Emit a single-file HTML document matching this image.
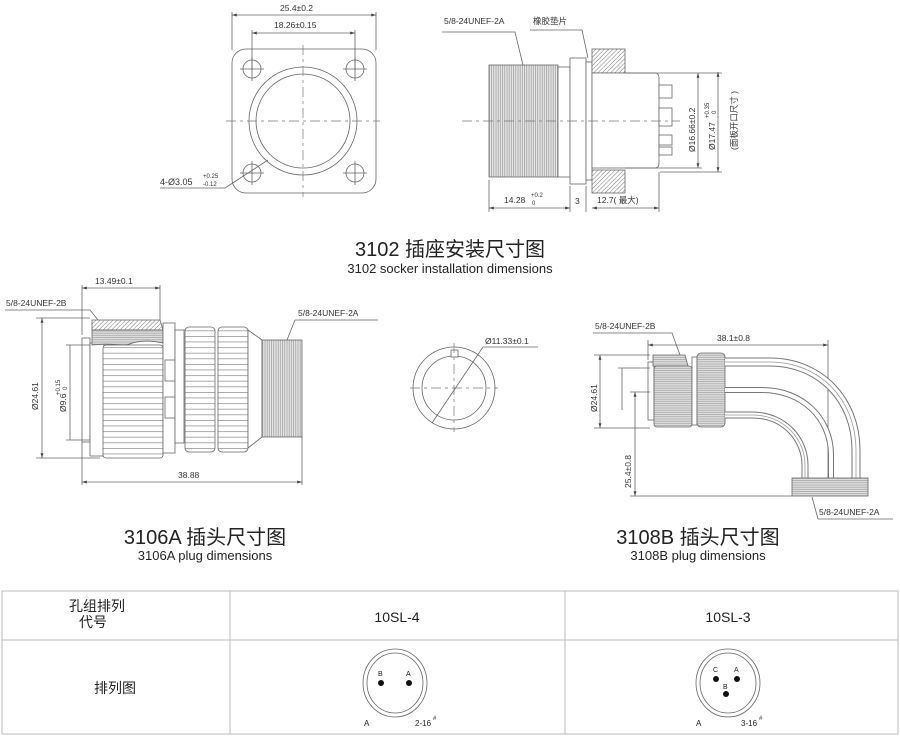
<!DOCTYPE html>
<html><head><meta charset="utf-8"><style>
html,body{margin:0;padding:0;background:#fff;}
svg{display:block;font-family:"Liberation Sans","Noto Sans CJK SC",sans-serif;}
.l{stroke:#666;stroke-width:0.8;fill:none}
.f{stroke:#666;stroke-width:0.8;fill:#fff}
.t{font-size:8.5px;fill:#333}
.c{stroke:#777;stroke-width:0.7;stroke-dasharray:10 4 3 4;fill:none}
</style></head><body>
<svg width="900" height="744" viewBox="0 0 900 744" xmlns="http://www.w3.org/2000/svg">
<defs>
<pattern id="hatch" width="3" height="3" patternUnits="userSpaceOnUse" patternTransform="rotate(45)"><rect width="3" height="3" fill="#fff"/><line x1="0" y1="0" x2="0" y2="3" stroke="#777" stroke-width="1"/></pattern>
<pattern id="thr" width="2.2" height="10" patternUnits="userSpaceOnUse"><rect width="2.2" height="10" fill="#e4e4e4"/><line x1="1" y1="0" x2="1" y2="10" stroke="#999" stroke-width="0.7"/></pattern>
<pattern id="knh" width="10" height="5.6" patternUnits="userSpaceOnUse"><rect width="10" height="5.6" fill="#fff"/><line x1="0" y1="0.3" x2="10" y2="0.3" stroke="#888" stroke-width="0.8"/></pattern>
<pattern id="knv" width="10" height="2.2" patternUnits="userSpaceOnUse"><rect width="10" height="2.2" fill="#ddd"/><line x1="0" y1="1" x2="10" y2="1" stroke="#999" stroke-width="0.6"/></pattern>
<marker id="a" viewBox="0 0 10 10" refX="10" refY="5" markerWidth="6" markerHeight="6" orient="auto-start-reverse"><path d="M0,2 L10,5 L0,8z" fill="#444"/></marker>
</defs>

<!-- ===== 3102 front view ===== -->
<line class="l" x1="232" y1="12" x2="232" y2="50"/><line class="l" x1="376" y1="12" x2="376" y2="50"/>
<line class="l" x1="232" y1="15" x2="376" y2="15" marker-start="url(#a)" marker-end="url(#a)"/>
<text class="t" x="280" y="11">25.4±0.2</text>
<line class="l" x1="252" y1="30" x2="252" y2="70"/><line class="l" x1="355" y1="30" x2="355" y2="70"/>
<line class="l" x1="252" y1="33" x2="355" y2="33" marker-start="url(#a)" marker-end="url(#a)"/>
<text class="t" x="274" y="28">18.26±0.15</text>
<rect class="l" x="232" y="49" width="144" height="144" rx="14"/>
<circle class="l" cx="303" cy="121" r="54"/><circle class="l" cx="303" cy="121" r="47"/>
<g class="l">
<circle cx="252" cy="69" r="9"/><circle cx="355" cy="69" r="9"/><circle cx="252" cy="173" r="9"/><circle cx="355" cy="173" r="9"/>
<path d="M240 69h24M252 57v24M343 69h24M355 57v24M240 173h24M252 161v24M343 173h24M355 161v24"/>
</g>
<line class="c" x1="226" y1="121" x2="380" y2="121"/><line class="c" x1="303" y1="45" x2="303" y2="197"/>
<path class="l" d="M160 188 H225 L268 160"/>
<text x="160" y="185" style="font-size:9px;fill:#333">4-Ø3.05</text>
<text x="203" y="178" style="font-size:6px;fill:#333">+0.25</text><text x="203" y="186" style="font-size:6px;fill:#333">-0.12</text>

<!-- ===== 3102 side view ===== -->
<text class="t" x="444" y="24">5/8-24UNEF-2A</text>
<path class="l" d="M442 32 H515 L523 65"/>
<text class="t" x="533" y="24">橡胶垫片</text>
<path class="l" d="M530 30 H582 L588 58"/>
<rect x="489" y="65" width="69" height="112" fill="url(#thr)" stroke="#666" stroke-width="0.8"/>
<rect class="f" x="558" y="67" width="12" height="110"/>
<rect class="f" x="570" y="58" width="16" height="126"/>
<rect class="f" x="586" y="62" width="6" height="118"/>
<rect x="592" y="49" width="33" height="24" fill="url(#hatch)" stroke="#666" stroke-width="0.8"/>
<rect x="592" y="170" width="33" height="23" fill="url(#hatch)" stroke="#666" stroke-width="0.8"/>
<path class="f" d="M592 73 H655 Q659 73 659 78 V163 Q659 168 655 168 H592z"/>
<g class="f"><rect x="659" y="85" width="13" height="13"/><rect x="659" y="108" width="13" height="18"/><rect x="659" y="135" width="13" height="10"/><rect x="659" y="147" width="13" height="8"/></g>
<line class="c" x1="462" y1="121" x2="680" y2="121"/>
<path class="l" d="M625 73 H722 M625 168 H702 M660 172 H722"/>
<line class="l" x1="698" y1="73" x2="698" y2="168" marker-start="url(#a)" marker-end="url(#a)"/>
<line class="l" x1="718" y1="72" x2="718" y2="172" marker-start="url(#a)" marker-end="url(#a)"/>
<text class="t" transform="translate(695,152) rotate(-90)">Ø16.66±0.2</text>
<text class="t" transform="translate(715,150) rotate(-90)">Ø17.47</text>
<text transform="translate(709,118) rotate(-90)" style="font-size:6px;fill:#333">+0.35</text>
<text transform="translate(716,114) rotate(-90)" style="font-size:6px;fill:#333">0</text>
<text class="t" transform="translate(737,150) rotate(-90)">(面板开口尺寸 )</text>
<path class="l" d="M489 180 V212 M570 186 V212 M586 186 V212 M659 172 V212"/>
<line class="l" x1="489" y1="208" x2="570" y2="208" marker-start="url(#a)" marker-end="url(#a)"/>
<line class="l" x1="592" y1="208" x2="659" y2="208" marker-start="url(#a)" marker-end="url(#a)"/>
<text class="t" x="504" y="203">14.28</text>
<text x="531" y="197" style="font-size:6px;fill:#333">+0.2</text><text x="532" y="205" style="font-size:6px;fill:#333">0</text>
<text class="t" x="575" y="204">3</text>
<text class="t" x="597" y="203">12.7(  最大)</text>

<text x="450" y="256" text-anchor="middle" style="font-size:20px;fill:#222">3102 插座安装尺寸图</text>
<text x="450" y="273" text-anchor="middle" style="font-size:13px;fill:#222">3102 socker installation dimensions</text>

<!-- ===== 3106A ===== -->
<line class="l" x1="82" y1="285" x2="82" y2="335"/><line class="l" x1="160" y1="285" x2="160" y2="320"/>
<line class="l" x1="82" y1="288" x2="160" y2="288" marker-start="url(#a)" marker-end="url(#a)"/>
<text class="t" x="95" y="284">13.49±0.1</text>
<text class="t" x="6" y="306">5/8-24UNEF-2B</text>
<path class="l" d="M5 310 H90 L102 325"/>
<rect class="f" x="82" y="338" width="8" height="104"/>
<rect class="f" x="90" y="343" width="14" height="113"/>
<path d="M92 320 L100 320 L160 320 L163 330 L92 330z" fill="url(#hatch)" stroke="#666" stroke-width="0.8"/>
<path d="M92 330 H163 V343 Q140 338 125 346 Q110 343 92 345z" fill="url(#knv)" stroke="#666" stroke-width="0.8"/>
<rect x="103" y="345" width="60" height="113" fill="url(#knh)" stroke="#666" stroke-width="0.8" rx="3"/>
<rect class="f" x="163" y="323" width="12" height="130"/>
<rect class="f" x="165" y="360" width="10" height="21"/><rect class="f" x="165" y="397" width="10" height="21"/>
<rect class="f" x="175" y="330" width="9" height="113"/>
<rect x="185" y="327" width="30" height="125" rx="4" fill="url(#knh)" stroke="#666" stroke-width="0.8"/>
<rect x="218" y="327" width="30" height="125" rx="4" fill="url(#knh)" stroke="#666" stroke-width="0.8"/>
<path class="f" d="M248 330 L262 340 V437 L248 448z"/>
<rect x="262" y="340" width="40" height="97" fill="url(#thr)" stroke="#666" stroke-width="0.8"/>
<text class="t" x="298" y="316">5/8-24UNEF-2A</text>
<path class="l" d="M295 320 H378 M295 320 L287 340"/>
<path class="l" d="M36 318 H90 M36 458 H100 M66 345 H90 M66 440 H90"/>
<line class="l" x1="42" y1="318" x2="42" y2="458" marker-start="url(#a)" marker-end="url(#a)"/>
<line class="l" x1="70" y1="345" x2="70" y2="440"/>
<text class="t" transform="translate(38,410) rotate(-90)">Ø24.61</text>
<text class="t" transform="translate(66,412) rotate(-90)">Ø9.6</text>
<text transform="translate(60,395) rotate(-90)" style="font-size:6px;fill:#333">+0.15</text>
<text transform="translate(67,390) rotate(-90)" style="font-size:6px;fill:#333">0</text>
<path class="l" d="M82 442 V485 M302 437 V485"/>
<line class="l" x1="82" y1="482" x2="302" y2="482" marker-start="url(#a)" marker-end="url(#a)"/>
<text class="t" x="178" y="478">38.88</text>
<text x="205" y="544" text-anchor="middle" style="font-size:20px;fill:#222">3106A 插头尺寸图</text>
<text x="205" y="560" text-anchor="middle" style="font-size:13px;fill:#222">3106A plug dimensions</text>

<!-- ===== small circle ===== -->
<circle class="l" cx="454" cy="388" r="41"/><circle class="l" cx="454" cy="388" r="32"/>
<rect class="f" x="451" y="350" width="7" height="7"/>
<line class="c" x1="410" y1="388" x2="498" y2="388"/><line class="c" x1="454" y1="343" x2="454" y2="432"/>
<path class="l" d="M432 423 L483 347 H538"/>
<text class="t" x="485" y="344">Ø11.33±0.1</text>

<!-- ===== 3108B ===== -->
<text class="t" x="595" y="329">5/8-24UNEF-2B</text>
<path class="l" d="M593 333 H672 L680 355"/>
<path class="l" d="M648 340 V360 M828 340 V478"/>
<line class="l" x1="648" y1="345" x2="828" y2="345" marker-start="url(#a)" marker-end="url(#a)"/>
<text class="t" x="717" y="341">38.1±0.8</text>
<rect class="f" x="648" y="362" width="6" height="58"/>
<path d="M653 355 H685 L688 366 H653z" fill="url(#knv)" stroke="#666" stroke-width="0.8"/>
<rect x="654" y="366" width="38" height="61" rx="3" fill="url(#knv)" stroke="#666" stroke-width="0.8"/>
<rect class="f" x="692" y="357" width="5" height="68"/>
<rect x="697" y="353" width="28" height="74" rx="4" fill="url(#knv)" stroke="#666" stroke-width="0.8"/>
<g fill="none">
<path d="M725 362 L770 362 C820 362 856 400 856 450 L856 478" stroke="#777" stroke-width="9"/>
<path d="M725 362 L770 362 C820 362 856 400 856 450 L856 478" stroke="#fff" stroke-width="7"/>
<path d="M725 362 L770 362 C820 362 856 400 856 450 L856 478" stroke="#999" stroke-width="0.8"/>
<path d="M725 390 L762 390 C802 390 831 418 831 455 L831 478" stroke="#777" stroke-width="6"/>
<path d="M725 390 L762 390 C802 390 831 418 831 455 L831 478" stroke="#fff" stroke-width="4"/>
<path d="M725 415 L752 415 C785 415 805 440 805 465 L805 478" stroke="#777" stroke-width="7"/>
<path d="M725 415 L752 415 C785 415 805 440 805 465 L805 478" stroke="#fff" stroke-width="5"/>
<path d="M725 415 L752 415 C785 415 805 440 805 465 L805 478" stroke="#999" stroke-width="0.8"/>
</g>
<rect x="792" y="478" width="76" height="18" fill="url(#knv)" stroke="#666" stroke-width="0.8"/>
<path class="l" d="M812 497 L818 519 H893"/>
<text class="t" x="819" y="515">5/8-24UNEF-2A</text>
<path class="l" d="M594 355 H650 M594 428 H650 M618 368 H650 M630 392 H650 M630 496 H792"/>
<line class="l" x1="600" y1="355" x2="600" y2="428" marker-start="url(#a)" marker-end="url(#a)"/>
<line class="l" x1="622" y1="368" x2="622" y2="410"/>
<line class="l" x1="635" y1="392" x2="635" y2="496" marker-start="url(#a)" marker-end="url(#a)"/>
<text class="t" transform="translate(597,412) rotate(-90)">Ø24.61</text>
<text class="t" transform="translate(631,488) rotate(-90)">25.4±0.8</text>
<text x="698" y="544" text-anchor="middle" style="font-size:20px;fill:#222">3108B 插头尺寸图</text>
<text x="698" y="560" text-anchor="middle" style="font-size:13px;fill:#222">3108B plug dimensions</text>

<!-- ===== table ===== -->
<g stroke="#bbb" stroke-width="1" fill="none">
<rect x="2" y="591" width="896" height="143"/>
<line x1="2" y1="640" x2="898" y2="640"/>
<line x1="230" y1="591" x2="230" y2="734"/>
<line x1="565" y1="591" x2="565" y2="734"/>
</g>
<g style="font-size:14px;fill:#222">
<text x="97" y="611" text-anchor="middle">孔组排列</text>
<text x="93" y="627" text-anchor="middle">代号</text>
<text x="397" y="622" text-anchor="middle">10SL-4</text>
<text x="728" y="622" text-anchor="middle">10SL-3</text>
<text x="115" y="693" text-anchor="middle">排列图</text>
</g>
<g>
<ellipse class="l" cx="395" cy="683" rx="32" ry="34"/><ellipse class="l" cx="395" cy="683" rx="28" ry="30"/>
<circle cx="381" cy="683" r="3" fill="#111"/><circle cx="409" cy="683" r="3" fill="#111"/>
<text x="378" y="676" style="font-size:7px;fill:#222">B</text><text x="406" y="676" style="font-size:7px;fill:#222">A</text>
<text x="364" y="726" style="font-size:8px;fill:#222">A</text><text x="415" y="726" style="font-size:8px;fill:#222">2-16</text><text x="433" y="720" style="font-size:6px;fill:#222">#</text>
<ellipse class="l" cx="728" cy="683" rx="32" ry="34"/><ellipse class="l" cx="728" cy="683" rx="28" ry="30"/>
<circle cx="716" cy="679" r="3" fill="#111"/><circle cx="737" cy="679" r="3" fill="#111"/><circle cx="726" cy="694" r="3" fill="#111"/>
<text x="713" y="672" style="font-size:7px;fill:#222">C</text><text x="734" y="672" style="font-size:7px;fill:#222">A</text><text x="723" y="689" style="font-size:7px;fill:#222">B</text>
<text x="696" y="726" style="font-size:8px;fill:#222">A</text><text x="741" y="726" style="font-size:8px;fill:#222">3-16</text><text x="759" y="720" style="font-size:6px;fill:#222">#</text>
</g>
</svg>
</body></html>
